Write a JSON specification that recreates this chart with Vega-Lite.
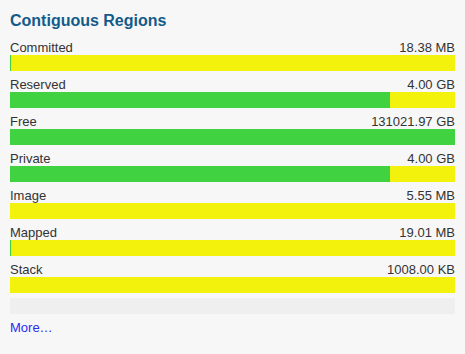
{
  "$schema": "https://vega.github.io/schema/vega-lite/v6.json",
  "width": 465,
  "height": 354,
  "autosize": {"type": "none"},
  "padding": 0,
  "background": "#f7f7f7",
  "title": {
    "text": "Contiguous Regions",
    "anchor": "start",
    "frame": "group",
    "orient": "top",
    "offset": -42,
    "baseline": "alphabetic",
    "dx": 10,
    "font": "Liberation Sans",
    "fontSize": 16,
    "fontWeight": "bold",
    "color": "#135b8a"
  },
  "config": {"view": {"stroke": null}},
  "datasets": {
    "regions": [
      {"region": "Committed", "size": "18.38 MB", "used": 0.0023, "capacity": 1},
      {"region": "Reserved", "size": "4.00 GB", "used": 0.854, "capacity": 1},
      {"region": "Free", "size": "131021.97 GB", "used": 1, "capacity": 1},
      {"region": "Private", "size": "4.00 GB", "used": 0.854, "capacity": 1},
      {"region": "Image", "size": "5.55 MB", "used": 0, "capacity": 1},
      {"region": "Mapped", "size": "19.01 MB", "used": 0.0023, "capacity": 1},
      {"region": "Stack", "size": "1008.00 KB", "used": 0, "capacity": 1}
    ],
    "footer": [
      {"region": " ", "link": "More…", "capacity": 1}
    ]
  },
  "data": {"name": "regions"},
  "encoding": {
    "y": {
      "field": "region",
      "type": "nominal",
      "sort": null,
      "scale": {
        "domain": ["Committed", "Reserved", "Free", "Private", "Image", "Mapped", "Stack", " "],
        "range": [37, 333],
        "paddingInner": 0,
        "paddingOuter": 0
      },
      "axis": null
    }
  },
  "layer": [
    {
      "mark": {"type": "bar", "height": 16, "yOffset": 7.5, "color": "#f2f20c", "cornerRadius": 0},
      "encoding": {
        "x": {"field": "capacity", "type": "quantitative", "scale": {"domain": [0, 1], "range": [10, 455], "nice": false, "zero": true}, "axis": null}
      }
    },
    {
      "mark": {"type": "bar", "height": 16, "yOffset": 7.5, "color": "#40d240", "cornerRadius": 0},
      "encoding": {
        "x": {"field": "used", "type": "quantitative"}
      }
    },
    {
      "mark": {"type": "text", "align": "left", "baseline": "alphabetic", "yOffset": -3.5, "font": "Liberation Sans", "fontSize": 13, "color": "#333333"},
      "encoding": {
        "x": {"datum": 0, "type": "quantitative"},
        "text": {"field": "region"}
      }
    },
    {
      "mark": {"type": "text", "align": "right", "baseline": "alphabetic", "yOffset": -3.5, "font": "Liberation Sans", "fontSize": 13, "color": "#333333"},
      "encoding": {
        "x": {"datum": 1, "type": "quantitative"},
        "text": {"field": "size"}
      }
    },
    {
      "data": {"name": "footer"},
      "mark": {"type": "bar", "height": 16, "yOffset": -8.5, "color": "#efefef", "cornerRadius": 0},
      "encoding": {
        "x": {"field": "capacity", "type": "quantitative"}
      }
    },
    {
      "data": {"name": "footer"},
      "mark": {"type": "text", "align": "left", "baseline": "alphabetic", "yOffset": 17.5, "font": "Liberation Sans", "fontSize": 13, "color": "#2b2bf5"},
      "encoding": {
        "x": {"datum": 0, "type": "quantitative"},
        "text": {"field": "link"}
      }
    }
  ]
}
